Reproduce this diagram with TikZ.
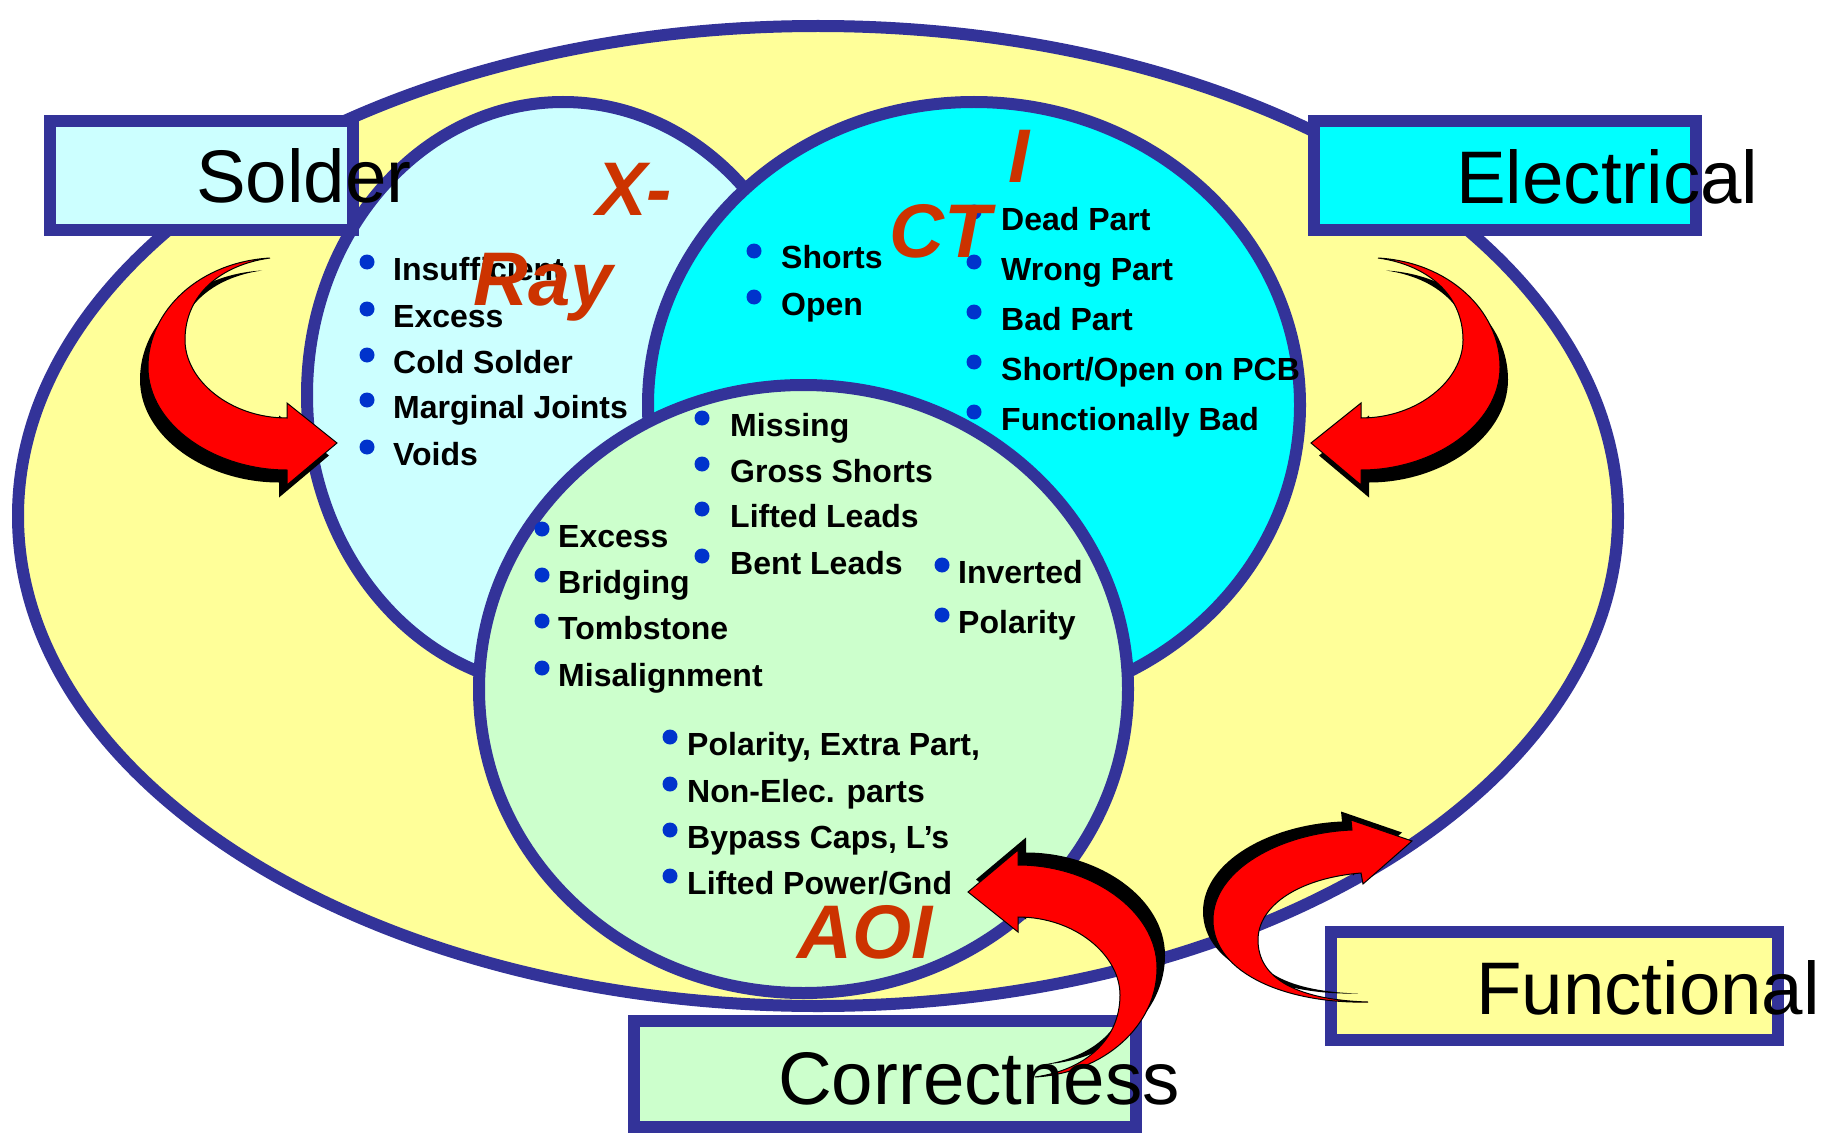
\documentclass[tikz,border=0pt]{standalone}
\usepackage{fontspec}
\setmainfont{Liberation Sans}
\usepackage{graphicx}

\definecolor{rim}{HTML}{333399}
\definecolor{sun}{HTML}{FFFF99}
\definecolor{ice}{HTML}{CCFFFF}
\definecolor{aqua}{HTML}{00FFFF}
\definecolor{mint}{HTML}{CCFFCC}
\definecolor{tagred}{HTML}{CC3300}
\definecolor{dotblue}{HTML}{0033CC}

% curved block arrow, head pointing right, tail at the top
\newcommand\curlA{(270,258) .. controls (200,262) and (148,310) .. (148,367)
  .. controls (148,425) and (215,470) .. (287,470) -- (287,485) -- (337,443)
  -- (287,403) -- (287,418) .. controls (230,418) and (185,380) .. (185,340)
  .. controls (185,295) and (220,265) .. (270,258) -- cycle}
% smaller curved arrow rising towards the upper right
\newcommand\curlD{(1368,1002) .. controls (1290,1004) and (1213,975) .. (1213,920)
  .. controls (1213,870) and (1280,833) .. (1352,830) -- (1351,820) -- (1412,841)
  -- (1363,884) -- (1361,873) .. controls (1300,878) and (1258,905) .. (1258,940)
  .. controls (1258,980) and (1300,1000) .. (1368,1002) -- cycle}

% one bulleted line: name, dot x, text x, baseline y, text
\newcommand\bitem[5]{%
  \node[bdot] (#1d) at (#2,#4-18) {};
  \node[item] (#1) at (#3,#4) {#5};}

\begin{document}
\begin{tikzpicture}[x=1pt,y=-1pt,
  ring/.style={draw=rim, line width=12pt},
  curl/.style={fill=red, draw=black, line width=1pt},
  lbl/.style={font=\fontsize{74.5}{80}\selectfont, inner sep=0pt, anchor=base west},
  tag/.style={text=tagred, font=\fontsize{76}{80}\selectfont\bfseries\itshape, inner sep=0pt, anchor=base west},
  item/.style={font=\fontsize{32}{36}\selectfont\bfseries, inner sep=0pt, anchor=base west},
  bdot/.style={circle, fill=dotblue, inner sep=0pt, minimum size=15pt},
]
\useasboundingbox (0,0) rectangle (1839,1134);
\fill[white] (0,0) rectangle (1839,1134);

% outer ellipse and the three test regions
\draw[ring, fill=sun] (818,516) ellipse [x radius=800pt, y radius=490pt];
\draw[ring, fill=ice] (563,395) ellipse [x radius=256pt, y radius=293pt];
\draw[ring, fill=aqua] (974,405) ellipse [x radius=326pt, y radius=303pt];
\draw[ring, fill=mint] (803.5,689) ellipse [x radius=324.5pt, y radius=304pt];

% category boxes
\draw[ring, fill=ice] (50,121) rectangle (353,230);
\draw[ring, fill=aqua] (1314,121) rectangle (1696,230);
\draw[ring, fill=sun] (1331,932) rectangle (1778,1040);
\draw[ring, fill=mint] (634,1021) rectangle (1136,1127);

% curved arrows with drop shadows
\fill[shift={(-8,12.5)}] \curlA;
\filldraw[curl] \curlA;
\begin{scope}[xshift=1648pt, xscale=-1]
  \fill[shift={(-8,12.5)}] \curlA;
  \filldraw[curl] \curlA;
\end{scope}
\begin{scope}[rotate around={180:(652.5,667.5)}]
  \fill[shift={(-8,12.5)}] \curlA;
  \filldraw[curl] \curlA;
\end{scope}
\fill[shift={(-10,-8.5)}] \curlD;
\filldraw[curl] \curlD;

% box captions
\node[lbl] (solder) at (196,203) {Solder};
\node[lbl] (electrical) at (1456,204) {Electrical};
\node[lbl] (functional) at (1476,1014) {Functional};
\node[lbl] (correctness) at (778,1104) {Correctness};

% X-ray defects
\bitem{x1}{367}{393}{280}{Insufficient}
\bitem{x2}{367}{393}{327}{Excess}
\bitem{x3}{367}{393}{373}{Cold Solder}
\bitem{x4}{367}{393}{418}{Marginal Joints}
\bitem{x5}{367}{393}{465}{Voids}

% ICT defects
\bitem{c1}{754}{781}{269}{Shorts}
\bitem{c2}{754}{781}{315}{Open}
\bitem{c3}{974}{1001}{230}{Dead Part}
\bitem{c4}{974}{1001}{280}{Wrong Part}
\bitem{c5}{974}{1001}{330}{Bad Part}
\bitem{c6}{974}{1001}{380}{Short/Open on PCB}
\bitem{c7}{974}{1001}{430}{Functionally Bad}

% AOI defects
\bitem{a1}{702}{730}{436}{Missing}
\bitem{a2}{702}{730}{482}{Gross Shorts}
\bitem{a3}{702}{730}{527}{Lifted Leads}
\bitem{a4}{702}{730}{574}{Bent Leads}
\bitem{a5}{542}{558}{547}{Excess}
\bitem{a6}{542}{558}{593}{Bridging}
\bitem{a7}{542}{558}{639}{Tombstone}
\bitem{a8}{542}{558}{686}{Misalignment}
\bitem{a9}{942}{958}{583}{Inverted}
\bitem{a10}{942}{958}{633}{Polarity}
\bitem{a11}{670}{687}{755}{Polarity, Extra Part,}
\bitem{a12}{670}{687}{802}{Non-Elec. parts}
\bitem{a13}{670}{687}{848}{Bypass Caps, L’s}
\bitem{a14}{670}{687}{894}{Lifted Power/Gnd}

% method names
\node[tag] (xa) at (596,215) {X-};
\node[tag] (xb) at (473,305) {Ray};
\node[tag] (ia) at (1008,183) {I};
\node[tag] (ib) at (889,257) {CT};
\node[tag] (aoi) at (797,958) {AOI};
\end{tikzpicture}
\end{document}
